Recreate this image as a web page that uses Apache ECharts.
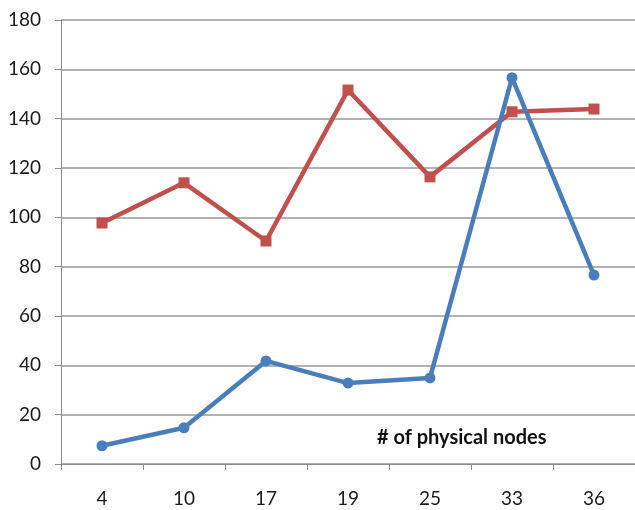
<!DOCTYPE html>
<html>
<head>
<meta charset="utf-8">
<script src="https://cdn.jsdelivr.net/npm/echarts@6/dist/echarts.min.js"></script>
<style>html,body{margin:0;padding:0;background:#fff;}#c{width:635px;height:510px;}</style>
</head>
<body>
<div id="c"></div>
<script>
const categories = ['4', '10', '17', '19', '25', '33', '36'];
const redSeries = [97.7, 114, 90.4, 151.6, 116.4, 142.8, 143.9];
const blueSeries = [7.4, 14.7, 41.8, 32.8, 34.9, 156.6, 76.6];
const yTicks = { min: 0, max: 180, interval: 20 };
const annotation = '# of physical nodes';

const chart = echarts.init(document.getElementById('c'), null, { renderer: 'canvas' });
const font = 'Lato, "Open Sans", sans-serif';
chart.setOption({
  animation: false,
  backgroundColor: '#ffffff',
  grid: { left: 61, top: 20, width: 576, height: 444, containLabel: false },
  xAxis: {
    type: 'category',
    data: categories,
    boundaryGap: true,
    axisLine: { lineStyle: { color: '#8c8c8c', width: 1 } },
    axisTick: { show: true, length: 6, lineStyle: { color: '#8c8c8c' } },
    axisLabel: { margin: 25, color: '#1a1a1a', fontSize: 19, fontFamily: font }
  },
  yAxis: {
    type: 'value',
    min: yTicks.min, max: yTicks.max, interval: yTicks.interval,
    axisLine: { show: true, lineStyle: { color: '#8c8c8c', width: 1 } },
    axisTick: { show: true, length: 6, lineStyle: { color: '#8c8c8c' } },
    splitLine: { lineStyle: { color: '#999999', width: 1.5 } },
    axisLabel: { margin: 20, color: '#1a1a1a', fontSize: 19, fontFamily: font }
  },
  graphic: [{
    type: 'text', left: 377, top: 428,
    style: { text: annotation, fill: '#111', font: 'bold 20px ' + font }
  }],
  series: [
    {
      type: 'line', data: redSeries,
      symbol: 'rect', symbolSize: 11,
      lineStyle: { color: '#C0504D', width: 4.5 },
      itemStyle: { color: '#C0504D' }
    },
    {
      type: 'line', data: blueSeries,
      symbol: 'circle', symbolSize: 11,
      lineStyle: { color: '#4A7EBB', width: 4.5 },
      itemStyle: { color: '#4A7EBB' }
    }
  ]
});
</script>
</body>
</html>
